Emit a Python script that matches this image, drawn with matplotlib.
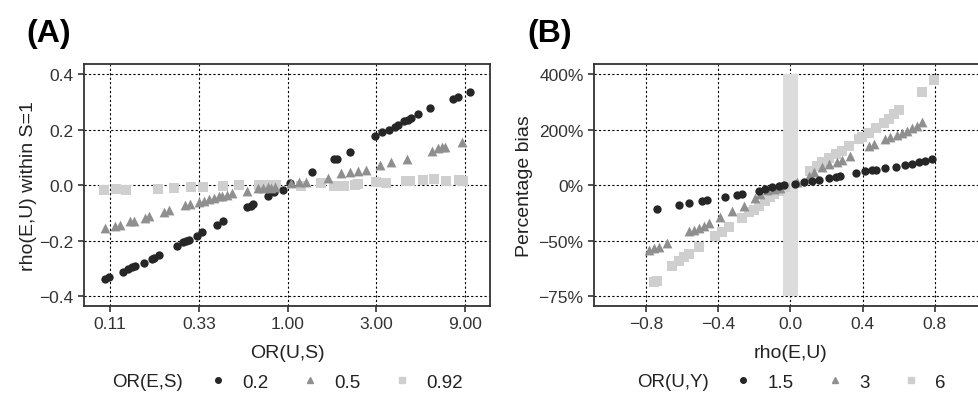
import numpy as np
import matplotlib
matplotlib.use("Agg")
import matplotlib.pyplot as plt
from matplotlib.lines import Line2D

plt.rcParams['font.family'] = ['Liberation Sans', 'DejaVu Sans']

# ---- panel A : rho(E,U) within S=1 vs OR(U,S) ----
a_or_02 = [0.104, 0.110, 0.131, 0.138, 0.145, 0.152, 0.170, 0.187, 0.192, 0.203,
           0.255, 0.274, 0.284, 0.294, 0.324, 0.346, 0.415, 0.451, 0.608, 0.634,
           0.655, 0.780, 0.847, 0.940, 1.034, 1.353, 1.786, 1.847, 2.171, 2.939,
           3.219, 3.498, 3.768, 3.896, 4.232, 4.411, 4.599, 4.995, 5.824, 7.785,
           8.216, 9.58]
a_rho_02 = [-0.339, -0.330, -0.313, -0.301, -0.295, -0.291, -0.281, -0.267, -0.264, -0.251,
            -0.221, -0.206, -0.203, -0.197, -0.183, -0.171, -0.144, -0.128, -0.080, -0.074,
            -0.068, -0.038, -0.024, -0.018, 0.007, 0.048, 0.094, 0.094, 0.120, 0.178,
            0.190, 0.199, 0.208, 0.216, 0.230, 0.235, 0.243, 0.255, 0.276, 0.312,
            0.319, 0.334]

a_or_05 = [0.104, 0.118, 0.126, 0.142, 0.149, 0.172, 0.179, 0.216, 0.229, 0.282,
           0.298, 0.333, 0.355, 0.377, 0.402, 0.427, 0.445, 0.474, 0.505, 0.603,
           0.689, 0.733, 0.780, 0.813, 0.854, 1.043, 1.156, 1.256, 1.644, 1.941,
           2.153, 2.389, 2.649, 3.127, 3.616, 4.357, 5.947, 6.458, 6.733, 7.020,
           8.63]
a_rho_05 = [-0.156, -0.147, -0.143, -0.131, -0.129, -0.117, -0.111, -0.098, -0.090, -0.072,
            -0.068, -0.060, -0.056, -0.050, -0.047, -0.041, -0.038, -0.036, -0.030, -0.020,
            -0.012, -0.011, -0.008, -0.010, -0.006, 0.006, 0.010, 0.012, 0.024, 0.043,
            0.046, 0.052, 0.054, 0.073, 0.084, 0.094, 0.124, 0.132, 0.138, 0.138,
            0.154]

a_or_092 = [0.103, 0.119, 0.135, 0.200, 0.246, 0.303, 0.350, 0.449, 0.452, 0.548,
            0.702, 0.780, 0.865, 1.18, 1.513, 1.786, 2.02, 2.29, 2.39, 3.0,
            3.37, 4.32, 4.54, 5.32, 6.12, 7.11, 8.29, 8.75]
a_rho_092 = [-0.018, -0.014, -0.017, -0.014, -0.012, -0.008, -0.008, -0.002, -0.005, 0.0,
             0.002, 0.001, 0.0, -0.005, 0.007, -0.005, -0.005, 0.0, 0.004, 0.010,
             0.006, 0.013, 0.013, 0.018, 0.021, 0.016, 0.018, 0.016]

# ---- panel B : percentage bias vs rho(E,U) ----
b_rho_15 = [-0.740, -0.616, -0.564, -0.490, -0.463, -0.361, -0.296, -0.268, -0.176, -0.139,
            -0.102, -0.065, -0.037, 0.028, 0.074, 0.120, 0.157, 0.213, 0.250, 0.277,
            0.361, 0.416, 0.453, 0.472, 0.527, 0.583, 0.638, 0.675, 0.712, 0.749,
            0.786]
b_bias_15 = [-25.9, -21.8, -20.1, -18.4, -17.1, -14.3, -11.4, -10.6, -6.8, -4.9,
             -2.9, -1.6, 0.0, 3.6, 9.6, 13.2, 18.0, 24.0, 27.6, 31.2,
             42.0, 49.2, 54.0, 55.2, 60.0, 66.0, 72.0, 76.8, 81.6, 85.2,
             92.4]

b_rho_3 = [-0.786, -0.759, -0.731, -0.685, -0.564, -0.537, -0.509, -0.481, -0.453, -0.389,
           -0.324, -0.259, -0.194, -0.167, -0.130, -0.093, -0.056, 0.037, 0.101, 0.129,
           0.176, 0.213, 0.259, 0.287, 0.333, 0.435, 0.462, 0.527, 0.555, 0.592,
           0.619, 0.647, 0.675, 0.703, 0.730]
b_bias_3 = [-55.3, -54.6, -54.0, -51.4, -43.9, -42.7, -41.5, -39.7, -37.7, -33.2,
            -27.4, -22.7, -15.3, -10.6, -6.1, -4.9, -3.7, 12.0, 34.0, 46.0,
            64.0, 76.0, 84.0, 90.0, 105.0, 141.0, 147.0, 165.0, 172.0, 180.0,
            187.0, 195.0, 204.0, 213.0, 226.0]

b_rho_6 = [-0.759, -0.740, -0.657, -0.620, -0.592, -0.564, -0.509, -0.416, -0.379, -0.342,
           -0.268, -0.231, -0.204, -0.176, -0.139, -0.111, -0.093, -0.065, -0.030, 0.110,
           0.148, 0.176, 0.213, 0.250, 0.287, 0.324, 0.379, 0.398, 0.435, 0.472,
           0.518, 0.546, 0.574, 0.601, 0.731, 0.796]
b_bias_6 = [-70.3, -70.0, -63.4, -61.1, -59.4, -58.0, -54.0, -47.3, -44.6, -41.0,
            -33.7, -28.9, -26.5, -22.7, -17.8, -14.3, -10.6, -6.8, -3.0, 51.6,
            69.6, 81.6, 96.0, 111.6, 123.6, 141.5, 165.5, 175.0, 189.4, 205.0,
            225.4, 237.4, 255.4, 269.8, 337.0, 377.6]

a_xticks = [1 / 9, 1 / 3, 1, 3, 9]
a_xticklabels = ["0.11", "0.33", "1.00", "3.00", "9.00"]
b_yticks = [-75, -50, 0, 200, 400]
b_yticklabels = ["\u221275%", "\u221250%", "0%", "200%", "400%"]

c_dark, c_mid, c_light = "#262626", "#8f8f8f", "#cfcfcf"


def bias_fwd(p):
    p = np.asarray(p, dtype=float)
    return np.where(p >= 0, p / 200.0, np.log2(np.clip(1 + p / 100.0, 1e-9, None)))


def bias_inv(t):
    t = np.asarray(t, dtype=float)
    return np.where(t >= 0, 200.0 * t, 100.0 * (np.power(2.0, t) - 1))


def style_axes(ax):
    ax.grid(True, color="black", linestyle=(0, (2, 2)), linewidth=0.8)
    ax.set_axisbelow(True)
    for s in ax.spines.values():
        s.set_color("#333333")
        s.set_linewidth(1.3)
    ax.tick_params(direction="out", length=4, width=1.2, color="#333333",
                   labelsize=12.5, labelcolor="#333333")
    ax.minorticks_off()


fig = plt.figure(figsize=(9.79, 4.10), dpi=100)

# panel A
axA = fig.add_axes([0.0858, 0.2512, 0.4147, 0.590])
axA.scatter(a_or_02, a_rho_02, marker="o", s=36, color=c_dark, linewidths=0, zorder=3)
axA.scatter(a_or_05, a_rho_05, marker="^", s=50, color=c_mid, linewidths=0, zorder=3)
axA.scatter(a_or_092, a_rho_092, marker="s", s=42, color=c_light, linewidths=0, zorder=2)
axA.set_xscale("log")
axA.set_xlim(0.0804, 12.24)
axA.set_ylim(-0.436, 0.436)
axA.set_xticks(a_xticks)
axA.set_xticklabels(a_xticklabels)
axA.set_yticks([-0.4, -0.2, 0.0, 0.2, 0.4])
axA.set_yticklabels(["\u22120.4", "\u22120.2", "0.0", "0.2", "0.4"])
style_axes(axA)
axA.set_xlabel("OR(U,S)", fontsize=14, color="#222222", labelpad=9)
axA.set_ylabel("rho(E,U) within S=1", fontsize=14, color="#222222", labelpad=2)

# panel B
axB = fig.add_axes([0.6067, 0.2512, 0.4014, 0.590])
axB.set_yscale("function", functions=(bias_fwd, bias_inv))
axB.fill_betweenx([-75, 400], -0.04, 0.04, color="#dcdcdc", linewidth=0, zorder=1)
axB.scatter(b_rho_15, b_bias_15, marker="o", s=36, color=c_dark, linewidths=0, zorder=4)
axB.scatter(b_rho_3, b_bias_3, marker="^", s=50, color=c_mid, linewidths=0, zorder=3)
axB.scatter(b_rho_6, b_bias_6, marker="s", s=42, color=c_light, linewidths=0, zorder=2)
axB.set_xlim(-1.09, 1.09)
axB.set_ylim(float(bias_inv(-2.18)), float(bias_inv(2.18)))
axB.set_xticks([-0.8, -0.4, 0.0, 0.4, 0.8])
axB.set_xticklabels(["\u22120.8", "\u22120.4", "0.0", "0.4", "0.8"])
axB.set_yticks(b_yticks)
axB.set_yticklabels(b_yticklabels)
style_axes(axB)
axB.set_xlabel("rho(E,U)", fontsize=14, color="#222222", labelpad=9)
axB.set_ylabel("Percentage bias", fontsize=14, color="#222222", labelpad=4)

# panel letters
fig.text(0.027, 0.918, "(A)", fontsize=23, fontweight="bold", va="center")
fig.text(0.539, 0.918, "(B)", fontsize=23, fontweight="bold", va="center")


# legends along the bottom
def bottom_legend(title, labels, x_title, x_center):
    handles = [Line2D([], [], marker="o", color=c_dark, linestyle="", markersize=4),
               Line2D([], [], marker="^", color=c_mid, linestyle="", markersize=5),
               Line2D([], [], marker="s", color=c_light, linestyle="", markersize=5)]
    fig.text(x_title, 0.066, title, fontsize=13.5, color="#222222", va="center")
    fig.legend(handles, labels, loc="center", bbox_to_anchor=(x_center, 0.066),
               ncol=3, frameon=False, fontsize=13.5, handlelength=1.0,
               handletextpad=0.8, columnspacing=1.7, labelcolor="#222222",
               borderpad=0, borderaxespad=0)


bottom_legend("OR(E,S)", ["0.2", "0.5", "0.92"], 0.1144, 0.343)
bottom_legend("OR(U,Y)", ["1.5", "3", "6"], 0.651, 0.858)

fig.savefig("out.png", dpi=100)
